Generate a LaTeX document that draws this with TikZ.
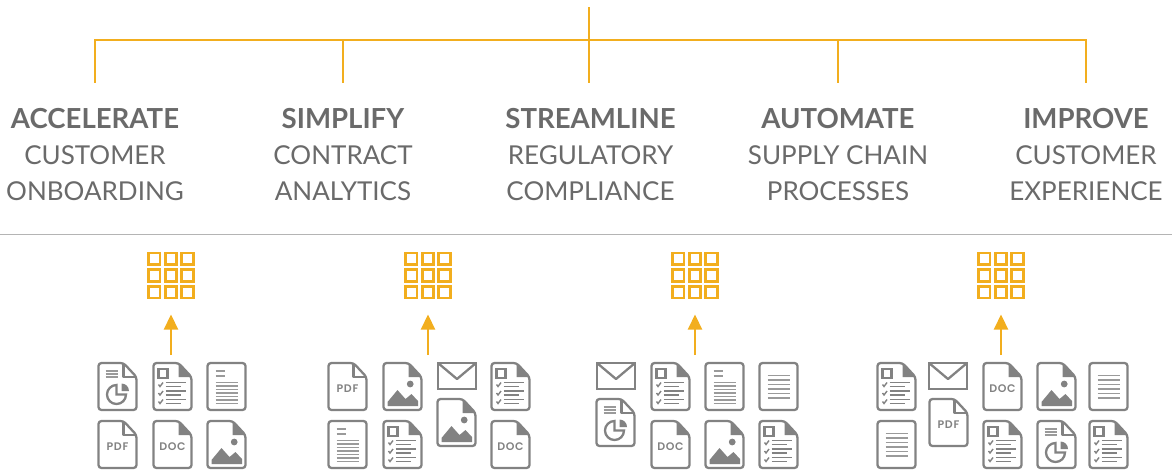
\documentclass[tikz,border=0pt]{standalone}
\usepackage{fontspec}
\setmainfont{Lato}[BoldFont=Lato Bold]
\newfontfamily\tagfont{Poppins}[BoldFont=Poppins SemiBold,LetterSpace=6]
\usetikzlibrary{arrows.meta}
\definecolor{gold}{HTML}{F2AE1E}
\definecolor{icongray}{HTML}{828282}
\definecolor{linegray}{HTML}{9A9A9A}
\definecolor{textgray}{HTML}{6A6A6A}
\definecolor{rulegray}{HTML}{B4B4B4}
\newcommand{\filefolded}{
    \draw[iconline,rounded corners=3] (0,0) -- (25,0) -- (38,14) -- (38,47) -- (0,47) -- cycle;
}
\newcommand{\foldopen}{
    \draw[iconline,line join=round] (25,0.5) -- (25,14) -- (37.5,14);
}
\newcommand{\foldfull}{
    \fill[icongray,line join=round] (25,0) -- (25,14) -- (38,14) -- cycle;
}
\newcommand{\fileplain}{
    \draw[iconline,rounded corners=3] (0,0) rectangle (38,47);
}
\newcommand{\headtext}[1]{\textbf{\fontsize{27.6}{36}\selectfont #1}}
\tikzset{
    iconline/.style={draw=icongray,line width=2.3},
    thinline/.style={draw=linegray,line width=1.2},
    midline/.style={draw=icongray,line width=1.6},
    branch/.style={draw=gold,line width=2},
    flow/.style={draw=gold,line width=2.2,-{Triangle[length=15,width=14]}},
    headlabel/.style={align=center,text=textgray,inner sep=0,outer ysep=26,font=\fontsize{26}{36}\selectfont},
    gridbox/.style={minimum size=48,inner sep=0,outer sep=15},
    filetag/.style={text=icongray,inner sep=0,font=\tagfont\bfseries\fontsize{11}{13}\selectfont},
    pics/docpdf/.style={code={
        \filefolded \foldopen
        \node[filetag] (-tag) at (19,26) {PDF};
    }},
    pics/docword/.style={code={
        \filefolded \foldfull
        \node[filetag] (-tag) at (19,26) {DOC};
    }},
    pics/docpie/.style={code={
        \filefolded \foldopen
        \foreach \y in {8,11,14} \draw[thinline] (7,\y) -- (19,\y);
        \draw[iconline] (18,22) arc[start angle=-90,end angle=-360,radius=9.5] -- (18,31.5) -- cycle;
        \fill[icongray] (23,28) -- (23,20.5) arc[start angle=-90,end angle=0,radius=7.5] -- cycle;
    }},
    pics/doccheck/.style={code={
        \filefolded \foldfull
        \draw[iconline] (5,6) rectangle (14,15);
        \foreach \y in {0,8.5,17} {
            \draw[midline] (12,19.5+\y) -- (32,19.5+\y);
            \draw[midline] (12,23.5+\y) -- (27,23.5+\y);
            \draw[midline,line width=1.4] (5,21.5+\y) -- (6.5,23.5+\y) -- (9.5,19.5+\y);
        }
    }},
    pics/doctext/.style={code={
        \fileplain
        \foreach \y in {8,13} \draw[thinline] (8,\y) -- (17,\y);
        \foreach \y in {19.5,23,26.5,30,33.5,37,40.5} \draw[thinline] (8,\y) -- (30.5,\y);
    }},
    pics/doclines/.style={code={
        \fileplain
        \foreach \y in {12.5,17,21.5,26,30.5,35} \draw[thinline] (8,\y) -- (30.5,\y);
    }},
    pics/docimage/.style={code={
        \filefolded \foldfull
        \fill[icongray] (26.7,21) circle (3.4);
        \fill[icongray] (4,43) -- (4,39) -- (14,27) -- (22,36) -- (28,31) -- (34.5,38) -- (34.5,43) -- cycle;
    }},
    pics/docmail/.style={code={
        \draw[iconline] (0.5,0) rectangle (38.5,26);
        \draw[iconline,line join=round] (0.5,0) -- (19.5,16) -- (38.5,0);
    }},
    pics/cellgrid/.style={code={
        \foreach \i in {0,1,2}
            \foreach \j in {0,1,2}
                \draw[draw=gold,line width=2.8] (-24+1.4+\i*16.7,-24+1.4+\j*16.7) rectangle ++(11.6,11.6);
    }}
}
\begin{document}
\begin{tikzpicture}[x=1pt,y=-1pt]
    \useasboundingbox (0,0) rectangle (1172,469);

    \node[headlabel] (labelA) at (95,155)    {\headtext{ACCELERATE}\\CUSTOMER\\ONBOARDING};
    \node[headlabel] (labelB) at (343,155)   {\headtext{SIMPLIFY}\\CONTRACT\\ANALYTICS};
    \node[headlabel] (labelC) at (590.5,155) {\headtext{STREAMLINE}\\REGULATORY\\COMPLIANCE};
    \node[headlabel] (labelD) at (838,155)   {\headtext{AUTOMATE}\\SUPPLY CHAIN\\PROCESSES};
    \node[headlabel] (labelE) at (1086,155)  {\headtext{IMPROVE}\\CUSTOMER\\EXPERIENCE};

    \coordinate (rootTop) at (589,7);
    \coordinate (rootBus) at (589,40);
    \coordinate (ruleL) at (0,234);
    \coordinate (ruleR) at (1172,234);

    \draw[branch] (rootTop) -- (rootTop |- labelC.north);
    \draw[branch] (labelA.north) |- (labelE.north |- rootBus) -- (labelE.north);
    \draw[branch] (labelB.north) -- (labelB.north |- rootBus);
    \draw[branch] (labelD.north) -- (labelD.north |- rootBus);
    \draw[draw=rulegray,line width=1] (ruleL) -- (ruleR);

    \node[gridbox] (gridA) at (171,275.5) {};
    \node[gridbox] (gridB) at (428,275.5) {};
    \node[gridbox] (gridC) at (695,275.5) {};
    \node[gridbox] (gridD) at (1001,275.5) {};
    \pic at (gridA) {cellgrid};
    \pic at (gridB) {cellgrid};
    \pic at (gridC) {cellgrid};
    \pic at (gridD) {cellgrid};

    \coordinate (footA) at (171,355);
    \coordinate (footB) at (428,355);
    \coordinate (footC) at (695,355);
    \coordinate (footD) at (1001,355);
    \draw[flow] (footA) -- (gridA.south);
    \draw[flow] (footB) -- (gridB.south);
    \draw[flow] (footC) -- (gridC.south);
    \draw[flow] (footD) -- (gridD.south);

    \pic (a1) at (98.5,363)  {docpie};
    \pic (a2) at (153.5,363) {doccheck};
    \pic (a3) at (207.5,363) {doctext};
    \pic (a4) at (98.5,421)  {docpdf};
    \pic (a5) at (153.5,421) {docword};
    \pic (a6) at (207.5,421) {docimage};

    \pic (b1) at (328.5,363) {docpdf};
    \pic (b2) at (383.5,363) {docimage};
    \pic (b3) at (437.5,363) {docmail};
    \pic (b4) at (491.5,363) {doccheck};
    \pic (b5) at (437.5,399) {docimage};
    \pic (b6) at (328.5,421) {doctext};
    \pic (b7) at (383.5,421) {doccheck};
    \pic (b8) at (491.5,421) {docword};

    \pic (c1) at (596.5,363) {docmail};
    \pic (c2) at (651.5,363) {doccheck};
    \pic (c3) at (705.5,363) {doctext};
    \pic (c4) at (759.5,363) {doclines};
    \pic (c5) at (596.5,399) {docpie};
    \pic (c6) at (651.5,421) {docword};
    \pic (c7) at (705.5,421) {docimage};
    \pic (c8) at (759.5,421) {doccheck};

    \pic (d1)  at (877.5,363)  {doccheck};
    \pic (d2)  at (928.5,363)  {docmail};
    \pic (d3)  at (983.5,363)  {docword};
    \pic (d4)  at (1037.5,363) {docimage};
    \pic (d5)  at (1089.5,363) {doclines};
    \pic (d6)  at (929.5,399)  {docpdf};
    \pic (d7)  at (877.5,421)  {doclines};
    \pic (d8)  at (983.5,421)  {doccheck};
    \pic (d9)  at (1037.5,421) {docpie};
    \pic (d10) at (1089.5,421) {doccheck};
\end{tikzpicture}
\end{document}
